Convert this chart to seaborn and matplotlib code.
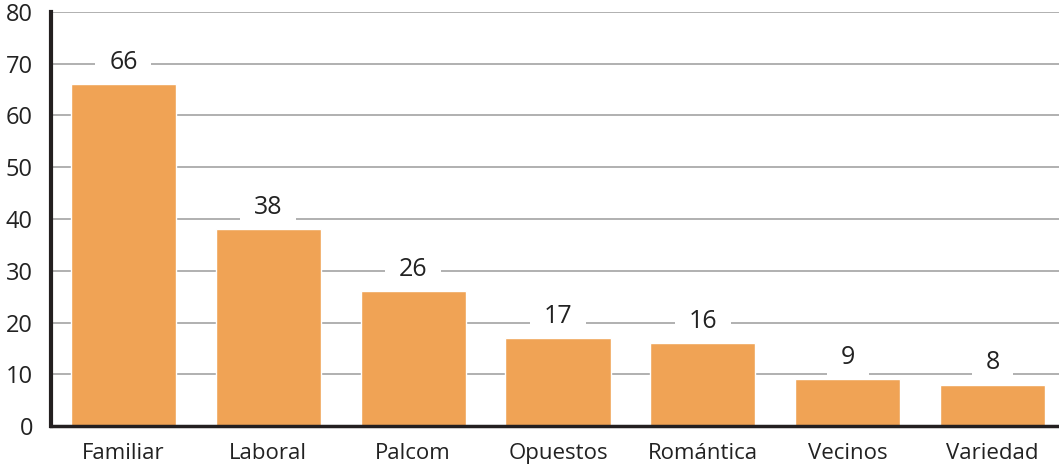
import matplotlib
matplotlib.use("Agg")
import matplotlib.pyplot as plt
import seaborn as sns
import pandas as pd

categories = ["Familiar", "Laboral", "Palcom", "Opuestos", "Romántica", "Vecinos", "Variedad"]
values = [66, 38, 26, 17, 16, 9, 8]
yticks = [0, 10, 20, 30, 40, 50, 60, 70, 80]

sns.set_style("white")
plt.rcParams['font.family'] = ['Open Sans', 'DejaVu Sans']

df = pd.DataFrame({"cat": categories, "val": values})

fig = plt.figure(figsize=(10.59, 4.67), dpi=100)
ax = fig.add_axes([51/1059, 41/467, 1014/1059, 414/467])
sns.barplot(data=df, x="cat", y="val", color="#F0A355", saturation=1, width=0.725, ax=ax, zorder=2)

ax.set_ylim(0, 80)
ax.set_xlim(-0.5, 6.5)
ax.set_yticks(yticks)
ax.set_yticklabels([str(t) for t in yticks], fontsize=17, color="#222222")
ax.tick_params(axis='x', labelsize=16, colors="#222222", length=0, pad=12)
ax.tick_params(axis='y', length=0, pad=13)
ax.set_xlabel("")
ax.set_ylabel("")
ax.yaxis.grid(True, color="#AAAAAA", linewidth=1.3, zorder=0)
ax.set_axisbelow(True)

for s in ["top", "right"]:
    ax.spines[s].set_visible(False)
ax.spines["left"].set_linewidth(3)
ax.spines["left"].set_color("#231F20")
ax.spines["bottom"].set_linewidth(2.5)
ax.spines["bottom"].set_color("#231F20")

for i, v in enumerate(values):
    ax.text(i, v + 4.2, str(v), ha="center", va="center", fontsize=18, color="#222222",
            zorder=1.5, bbox=dict(boxstyle="square,pad=0.55", fc="white", ec="none"))

fig.savefig("out.png", dpi=100)
